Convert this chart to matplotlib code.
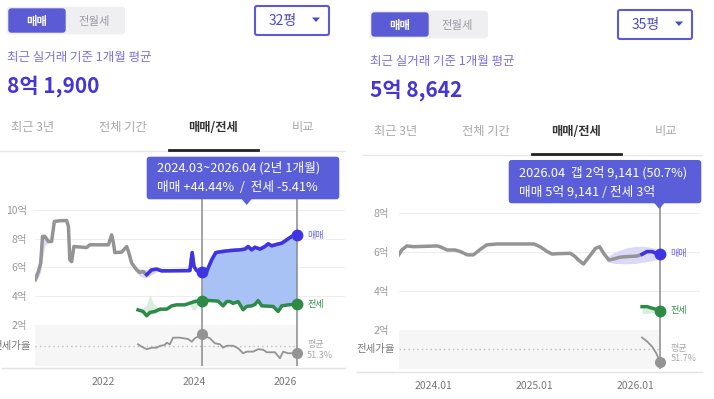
import numpy as np
import matplotlib
matplotlib.use('Agg')
import matplotlib.pyplot as plt
from matplotlib.patches import FancyBboxPatch, Polygon

plt.rcParams['font.family'] = ['Noto Sans CJK KR', 'DejaVu Sans']

# ---- 왼쪽 (32평) ----
L_sale_years = [2020.50, 2020.57, 2020.62, 2020.66, 2020.71, 2020.79, 2020.86, 2020.92, 2021.04, 2021.19,
                2021.23, 2021.26, 2021.30, 2021.35, 2021.63, 2021.70, 2022.11, 2022.18, 2022.22, 2022.25,
                2022.40, 2022.51, 2022.55, 2022.62, 2022.73, 2022.80, 2022.87, 2022.95, 2023.06, 2023.17,
                2023.28, 2023.90, 2023.95, 2023.99, 2024.05, 2024.17, 2024.27, 2024.38, 2024.47, 2024.60,
                2024.78, 2025.00, 2025.11, 2025.18, 2025.26, 2025.33, 2025.44, 2025.55, 2025.62, 2025.70,
                2025.81, 2025.92, 2026.03, 2026.14, 2026.25]
L_sale = [5.14, 5.72, 6.30, 8.15, 8.15, 7.80, 7.80, 9.19, 9.24, 9.26,
          8.84, 6.53, 6.40, 7.45, 7.38, 7.57, 7.57, 8.26, 7.68, 7.03,
          7.06, 7.45, 7.10, 6.30, 5.83, 5.65, 5.72, 5.49, 5.83, 5.88,
          5.76, 5.78, 7.03, 6.06, 5.78, 5.67, 5.72, 6.53, 7.03, 7.10,
          7.17, 7.22, 7.27, 7.45, 7.22, 7.40, 7.27, 7.45, 7.64, 7.50,
          7.60, 7.68, 7.92, 8.15, 8.25]
L_jeonse_years = [2022.76, 2022.87, 2022.95, 2023.02, 2023.13, 2023.24, 2023.39, 2023.50, 2023.61, 2023.79,
                  2023.90, 2024.01, 2024.17, 2024.34, 2024.52, 2024.63, 2024.71, 2024.78, 2024.85, 2024.96,
                  2025.07, 2025.15, 2025.26, 2025.33, 2025.40, 2025.48, 2025.73, 2025.84, 2025.92, 2026.06,
                  2026.25]
L_jeonse = [3.05, 2.94, 2.64, 2.87, 2.94, 3.10, 3.10, 3.33, 3.40, 3.40,
            3.52, 3.63, 3.70, 3.70, 3.66, 3.33, 3.63, 3.63, 3.50, 3.63,
            3.06, 3.29, 3.33, 3.43, 3.70, 3.33, 3.29, 2.94, 3.33, 3.40,
            3.45]
L_ratio_years = [2022.76, 2022.84, 2022.95, 2023.06, 2023.17, 2023.24, 2023.35, 2023.39, 2023.46, 2023.53,
                 2023.68, 2023.86, 2023.94, 2024.01, 2024.17, 2024.23, 2024.34, 2024.45, 2024.56, 2024.63,
                 2024.71, 2024.85, 2024.96, 2025.07, 2025.15, 2025.29, 2025.40, 2025.51, 2025.59, 2025.77,
                 2025.88, 2025.95, 2026.06, 2026.25]
L_ratio = [53.3, 50.5, 47.5, 49.3, 49.3, 51.3, 52.5, 55.1, 53.3, 61.0,
           61.0, 59.4, 56.3, 60.3, 64.9, 62.9, 60.3, 54.4, 53.3, 49.3,
           51.6, 51.6, 48.6, 42.8, 44.7, 44.7, 47.5, 47.0, 44.0, 44.0,
           37.0, 44.7, 42.8, 42.8]
L_ratio_avg = 51.3
L_blue_from = 2022.95
L_period = [2024.17, 2026.25]

L_sband1_years = [2020.50, 2020.57, 2020.62, 2020.66, 2020.71, 2020.79]
L_sband1_lo = [5.0, 5.3, 5.7, 6.6, 7.5, 7.7]
L_sband1_hi = [5.3, 6.2, 7.6, 8.3, 8.3, 8.0]
L_sband2_years = [2022.62, 2022.73, 2022.80, 2022.87, 2022.95, 2023.06, 2023.17]
L_sband2_lo = [6.1, 5.6, 5.4, 5.3, 5.3, 5.5, 5.7]
L_sband2_hi = [6.4, 6.0, 5.9, 5.85, 5.85, 6.0, 5.95]
L_sband3_years = [2025.55, 2025.70, 2025.85, 2026.00, 2026.15, 2026.25]
L_sband3_lo = [7.2, 7.3, 7.4, 7.5, 7.8, 8.0]
L_sband3_hi = [7.6, 7.7, 7.8, 8.0, 8.2, 8.3]
L_jband1_years = [2022.85, 2022.95, 2023.02, 2023.10, 2023.20, 2023.30]
L_jband1_lo = [2.9, 2.6, 2.7, 2.8, 2.9, 3.0]
L_jband1_hi = [3.1, 3.4, 4.1, 3.5, 3.2, 3.1]
L_jband2_years = [2023.88, 2023.95, 2024.00, 2024.05, 2024.12]
L_jband2_lo = [3.5, 3.1, 3.0, 3.3, 3.6]
L_jband2_hi = [3.6, 3.8, 3.9, 3.8, 3.7]

# ---- 오른쪽 (35평) ----
R_sale_years = [2023.66, 2023.69, 2023.74, 2023.81, 2024.04, 2024.07, 2024.14, 2024.22, 2024.27, 2024.34,
                2024.40, 2024.47, 2024.53, 2024.63, 2025.00, 2025.06, 2025.13, 2025.18, 2025.23, 2025.36,
                2025.40, 2025.44, 2025.49, 2025.56, 2025.61, 2025.65, 2025.69, 2025.74, 2025.79, 2025.85,
                2025.92, 2026.02, 2026.07, 2026.12, 2026.17, 2026.21, 2026.25]
R_sale = [5.86, 6.11, 6.32, 6.28, 6.32, 6.28, 6.11, 6.11, 6.03, 5.86,
          5.86, 6.15, 6.37, 6.42, 6.42, 6.28, 6.03, 5.90, 5.92, 5.94,
          5.80, 5.60, 5.39, 5.86, 6.20, 6.28, 5.94, 5.60, 5.65, 5.74,
          5.77, 5.80, 5.89, 6.03, 6.03, 5.94, 5.91]
R_jeonse_years = [2026.07, 2026.12, 2026.17, 2026.25]
R_jeonse = [3.20, 3.20, 3.12, 3.00]
R_ratio_years = [2026.07, 2026.12, 2026.17, 2026.21, 2026.25]
R_ratio = [52.6, 52.3, 51.9, 51.4, 50.7]
R_ratio_avg = 51.7
R_blue_from = 2026.07
R_period = [2026.25]

R_sband_years = [2025.72, 2025.80, 2025.90, 2026.00, 2026.10, 2026.20, 2026.25]
R_sband_lo = [5.5, 5.42, 5.4, 5.42, 5.5, 5.6, 5.7]
R_sband_hi = [5.75, 6.0, 6.2, 6.3, 6.3, 6.2, 6.1]
R_jband_years = [2026.07, 2026.12, 2026.17, 2026.22]
R_jband_lo = [2.85, 2.85, 2.9, 2.95]
R_jband_hi = [3.15, 3.12, 3.05, 3.0]

tabs = ['최근 3년', '전체 기간', '매매/전세', '비교']

PURPLE = '#5b5bd6'
TIP = '#5a5fd9'
BLUE = '#3e34e4'
FILL = '#a8c2f6'
GREEN = '#2e8b47'
GRAY = '#949494'

W, H = 714, 399
fig = plt.figure(figsize=(W / 100, H / 100), dpi=100)
bg = fig.add_axes([0, 0, 1, 1])
bg.set_xlim(0, W)
bg.set_ylim(H, 0)
bg.axis('off')


def px_axes(x0, y0, x1, y1):
    return fig.add_axes([x0 / W, 1 - y1 / H, (x1 - x0) / W, (y1 - y0) / H])


def rbox(ax, x0, y0, x1, y1, fc, ec='none', lw=0, r=3):
    ax.add_patch(FancyBboxPatch((x0 + r, y0 + r), x1 - x0 - 2 * r, y1 - y0 - 2 * r,
                                boxstyle='round,pad=%s' % r, fc=fc, ec=ec, lw=lw))


def header(ox, oy, size, price, right_end):
    rbox(bg, ox + 6.7, oy + 6.7, ox + 125, oy + 34.3, '#efeff1')
    rbox(bg, ox + 8.3, oy + 8.3, ox + 65.7, oy + 32.7, PURPLE)
    bg.text(ox + 37, oy + 21, '매매', color='white', fontsize=8.2, weight='bold', ha='center', va='center')
    bg.text(ox + 94, oy + 21, '전월세', color='#9a9aa6', fontsize=8.2, ha='center', va='center')
    rbox(bg, ox + 255, oy + 6, ox + 329, oy + 35, 'white', ec=PURPLE, lw=1.5, r=2)
    bg.text(ox + 283, oy + 21, size, color='#4a4ac4', fontsize=10, ha='center', va='center')
    bg.add_patch(Polygon([(ox + 312, oy + 17.5), (ox + 320, oy + 17.5), (ox + 316, oy + 22)],
                         closed=True, fc='#4a4ac4', ec='none'))
    bg.text(ox + 7, oy + 58, '최근 실거래 기준 1개월 평균', color='#7b70e6', fontsize=9, va='center')
    bg.text(ox + 7, oy + 86, price, color='#4535d6', fontsize=15, weight='bold', va='center')
    for i, (x, t) in enumerate(zip([33, 123, 213, 303], tabs)):
        sel = i == 2
        bg.text(ox + x, oy + 127.5, t, ha='center', va='center', fontsize=8.8,
                color='#333333' if sel else '#a8a8a8', weight='bold' if sel else 'normal')
    bg.plot([ox, right_end], [oy + 151, oy + 151], color='#e6e6e6', lw=1)
    bg.plot([ox + 169, ox + 258], [oy + 150, oy + 150], color='#222222', lw=2)


def draw_chart(p_box, r_box, xlim, p_top, r_lim, yticks, xticks, xlabels,
               s_years, sale, blue_from, j_years, jeonse, r_years, ratio, avg,
               marks, s_bands, j_bands, ylab_pad, xlab_pad):
    s_years, sale = np.array(s_years), np.array(sale)
    j_years, jeonse = np.array(j_years), np.array(jeonse)
    axp = px_axes(*p_box)
    axr = px_axes(*r_box)
    for ax in (axp, axr):
        ax.set_xlim(*xlim)
        ax.set_facecolor('none')
        for s in ax.spines.values():
            s.set_visible(False)
    axp.set_ylim(2, p_top)
    axp.set_yticks(yticks)
    axp.set_yticklabels(['%d억' % v for v in yticks])
    axp.tick_params(axis='y', length=0, pad=ylab_pad, labelsize=7.5, labelcolor='#9a9a9a')
    axp.tick_params(axis='x', bottom=False, labelbottom=False)
    axp.grid(axis='y', color='#ededed', lw=0.8)
    axp.set_axisbelow(True)

    for by, lo, hi in s_bands:
        axp.fill_between(by, lo, hi, color='#dcd9f8', lw=0, zorder=1)
    for by, lo, hi in j_bands:
        axp.fill_between(by, lo, hi, color='#d6eedb', lw=0, zorder=1)
    if len(marks) > 1:
        xs = np.union1d(s_years, j_years)
        xs = xs[(xs >= marks[0]) & (xs <= marks[-1])]
        axp.fill_between(xs, np.interp(xs, s_years, sale), np.interp(xs, j_years, jeonse),
                         color=FILL, lw=0, zorder=2)

    end = s_years[-1]
    for x in marks:
        axp.axvline(x, color='#8a8a8a', lw=1.1, zorder=2.5)
        axr.axvline(x, color='#8a8a8a', lw=1.1, zorder=2.5)

    axp.plot(s_years, sale, color=GRAY, lw=2.5, zorder=3, solid_joinstyle='round')
    m = s_years >= blue_from
    axp.plot(s_years[m], sale[m], color=BLUE, lw=2.5, zorder=4, solid_joinstyle='round')
    axp.plot(j_years, jeonse, color=GREEN, lw=2.5, zorder=4, solid_joinstyle='round')
    for x in marks:
        axp.plot(x, np.interp(x, s_years, sale), 'o', color=BLUE, ms=7.5, zorder=5)
        axp.plot(x, np.interp(x, j_years, jeonse), 'o', color=GREEN, ms=7.5, zorder=5)
        axr.plot(x, np.interp(x, r_years, ratio), 'o', color=GRAY, ms=7, zorder=5, clip_on=False)

    axp.annotate('매매', (end, sale[-1]), xytext=(7.5, 0), textcoords='offset points',
                 color='#6a63e6', fontsize=6.5, va='center')
    axp.annotate('전세', (end, jeonse[-1]), xytext=(7.5, 0), textcoords='offset points',
                 color=GREEN, fontsize=6.5, va='center')

    axr.set_ylim(*r_lim)
    axr.axvspan(xlim[0], end, color='#f6f6f6', lw=0, zorder=0)
    axr.hlines(avg, xlim[0], end, colors='#bdbdbd', linestyles=(0, (1, 2.2)), lw=1, zorder=1)
    axr.plot(r_years, ratio, color=GRAY, lw=1.3, zorder=3)
    axr.set_yticks([])
    axr.set_xticks(xticks)
    axr.set_xticklabels(xlabels)
    axr.tick_params(axis='x', length=0, pad=xlab_pad, labelsize=7.5, labelcolor='#777777')
    axr.text(-0.013, avg, '전세가율', transform=axr.get_yaxis_transform(), ha='right', va='center',
             fontsize=7.5, color='#777777')
    axr.annotate('평균\n%.1f%%' % avg, (end, avg), xytext=(7.5, -3), textcoords='offset points',
                 fontsize=6.5, color='#a8a8a8', va='center', linespacing=1.25)
    return axp, axr


header(0, 0, '32평', '8억 1,900', 345)
header(363, 4, '35평', '5억 8,642', 702)

draw_chart((35, 199.3, 345, 325), (35, 325, 345, 366), (2020.495, 2027.31), 10.73, (28.0, 75.7),
           [2, 4, 6, 8, 10], [2022, 2024, 2026], ['2022', '2024', '2026'],
           L_sale_years, L_sale, L_blue_from, L_jeonse_years, L_jeonse, L_ratio_years, L_ratio, L_ratio_avg,
           L_period,
           [(L_sband1_years, L_sband1_lo, L_sband1_hi), (L_sband2_years, L_sband2_lo, L_sband2_hi),
            (L_sband3_years, L_sband3_lo, L_sband3_hi)],
           [(L_jband1_years, L_jband1_lo, L_jband1_hi), (L_jband2_years, L_jband2_lo, L_jband2_hi)],
           5.8, 8)

draw_chart((399, 203.3, 700, 330), (399, 330, 700, 369), (2023.663, 2026.644), 8.51, (50.18, 53.18),
           [2, 4, 6, 8], [2024, 2025, 2026], ['2024.01', '2025.01', '2026.01'],
           R_sale_years, R_sale, R_blue_from, R_jeonse_years, R_jeonse, R_ratio_years, R_ratio, R_ratio_avg,
           R_period,
           [(R_sband_years, R_sband_lo, R_sband_hi)],
           [(R_jband_years, R_jband_lo, R_jband_hi)],
           7.0, 8.5)

# 하단 축선
bg.plot([2, 345], [368, 368], color='#e2e2e2', lw=1)
bg.plot([357, 702], [371.7, 371.7], color='#e2e2e2', lw=1)

# 툴팁
fg = fig.add_axes([0, 0, 1, 1])
fg.set_xlim(0, W)
fg.set_ylim(H, 0)
fg.axis('off')
rbox(fg, 146.7, 156.7, 339.3, 199.3, TIP)
fg.add_patch(Polygon([(241.7, 199), (251.7, 199), (246.7, 205)], closed=True, fc=TIP, ec='none'))
fg.text(157.3, 167.3, '2024.03~2026.04 (2년 1개월)', color='white', fontsize=9.2, va='center')
fg.text(157.3, 187.3, '매매 +44.44%  /  전세 -5.41%', color='white', fontsize=9.2, va='center')
rbox(fg, 508.7, 160, 701.3, 203.3, TIP)
fg.add_patch(Polygon([(654.3, 203), (664.3, 203), (659.3, 209)], closed=True, fc=TIP, ec='none'))
fg.text(519.3, 172.7, '2026.04  갭 2억 9,141 (50.7%)', color='white', fontsize=9.2, va='center')
fg.text(519.3, 191.7, '매매 5억 9,141 / 전세 3억', color='white', fontsize=9.2, va='center')

fig.savefig('out.png', dpi=100)
